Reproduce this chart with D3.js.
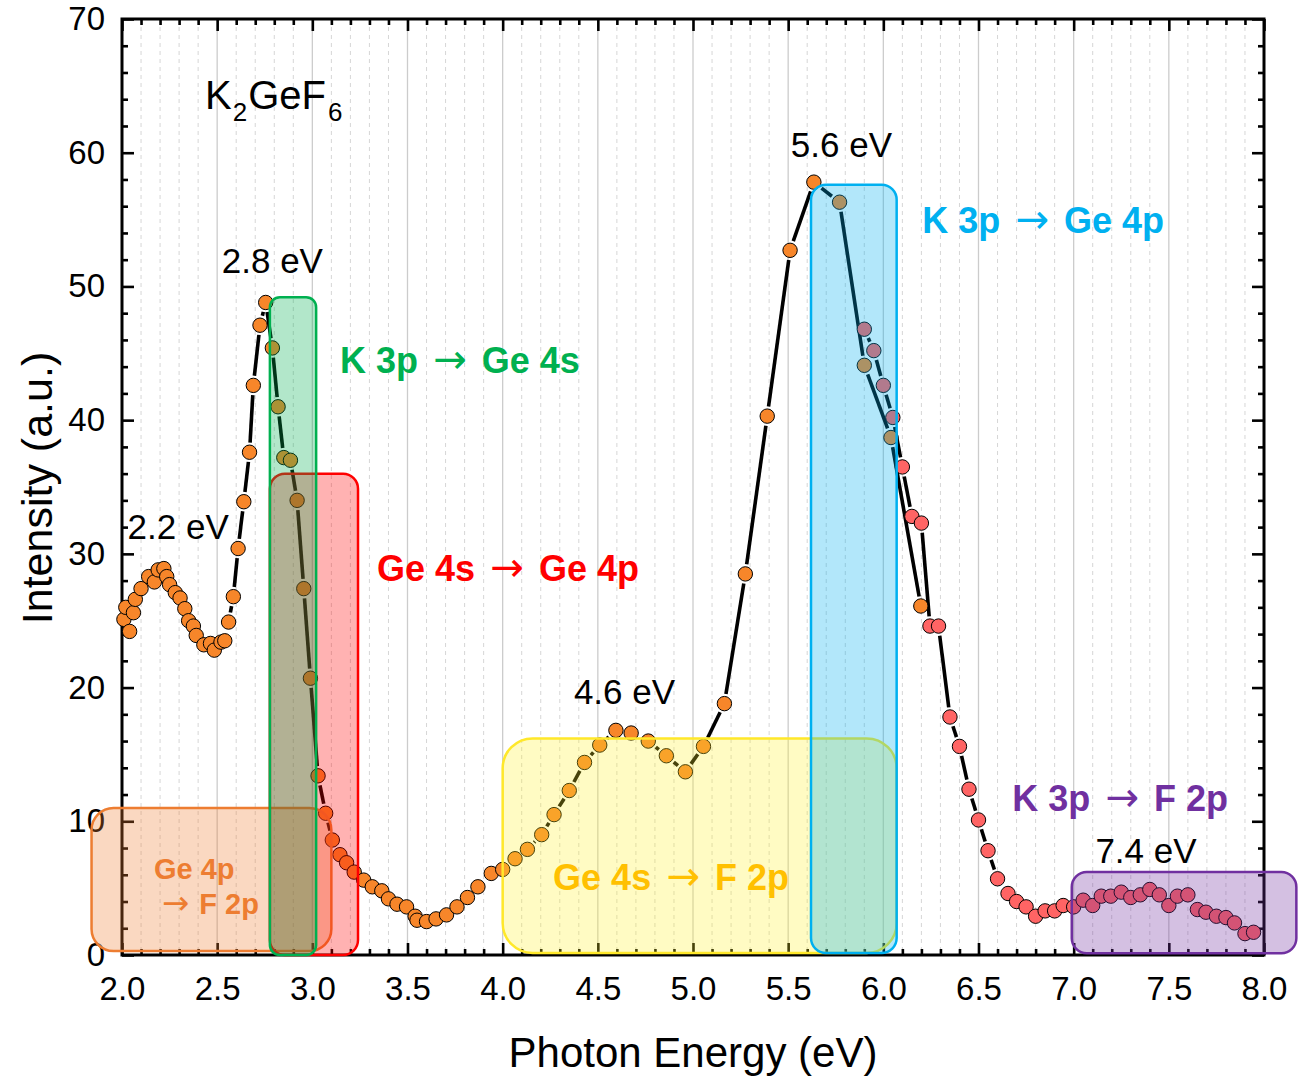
<!DOCTYPE html>
<html>
<head>
<meta charset="utf-8">
<script src="https://cdn.jsdelivr.net/npm/d3@7"></script>
<style>
  body { margin: 0; background: #fff; }
  svg text { font-family: "Liberation Sans", Arial, sans-serif; }
</style>
</head>
<body>
<div id="viz"></div>
<script>
// series A (orange), 2.0 - 6.2 eV
const energyA = [2.01, 2.02, 2.04, 2.06, 2.07, 2.10, 2.14, 2.17, 2.19, 2.22, 2.235, 2.25, 2.28, 2.305,
  2.33, 2.35, 2.375, 2.39, 2.43, 2.465, 2.485, 2.52, 2.54, 2.56, 2.585, 2.61, 2.64, 2.67, 2.69, 2.725,
  2.755, 2.79, 2.82, 2.85, 2.885, 2.92, 2.955, 2.99, 3.03, 3.07, 3.105, 3.145, 3.18, 3.22, 3.27, 3.315,
  3.365, 3.40, 3.445, 3.495, 3.54, 3.55, 3.60, 3.65, 3.705, 3.76, 3.815, 3.87, 3.94, 4.00, 4.065, 4.13,
  4.205, 4.27, 4.35, 4.43, 4.51, 4.595, 4.675, 4.765, 4.86, 4.96, 5.055, 5.165, 5.275, 5.39, 5.51,
  5.635, 5.77, 5.90, 6.04, 6.197];
const intensA = [25.1, 26.0, 24.2, 25.6, 26.6, 27.4, 28.3, 27.9, 28.8, 28.9, 28.3, 27.7, 27.1, 26.7,
  25.9, 25.0, 24.6, 23.9, 23.2, 23.3, 22.8, 23.4, 23.5, 24.9, 26.8, 30.4, 33.9, 37.6, 42.6, 47.1,
  48.8, 45.4, 41.0, 37.2, 37.0, 34.0, 27.4, 20.7, 13.4, 10.6, 8.6, 7.5, 6.9, 6.2, 5.6, 5.1,
  4.8, 4.2, 3.8, 3.6, 2.9, 2.6, 2.5, 2.7, 3.0, 3.6, 4.3, 5.1, 6.1, 6.4, 7.2, 7.9,
  9.0, 10.5, 12.3, 14.4, 15.7, 16.8, 16.6, 16.0, 14.9, 13.7, 15.6, 18.8, 28.5, 40.3, 52.7,
  57.8, 56.3, 44.1, 38.7, 26.1];

// series B (red), 5.9 - 8.0 eV
const energyB = [5.90, 5.95, 6.00, 6.05, 6.10, 6.15, 6.20, 6.245, 6.29, 6.35, 6.40, 6.45, 6.50, 6.55,
  6.60, 6.655, 6.70, 6.75, 6.80, 6.85, 6.90, 6.945, 7.00, 7.05, 7.10, 7.145, 7.195, 7.25, 7.30, 7.35,
  7.40, 7.45, 7.50, 7.545, 7.60, 7.65, 7.695, 7.75, 7.80, 7.845, 7.90, 7.945];
const intensB = [46.8, 45.2, 42.6, 40.2, 36.5, 32.8, 32.3, 24.6, 24.6, 17.8, 15.6, 12.4, 10.1, 7.8,
  5.7, 4.6, 4.0, 3.6, 2.9, 3.3, 3.3, 3.7, 3.6, 4.1, 3.7, 4.4, 4.4, 4.7, 4.3, 4.5,
  4.9, 4.5, 3.7, 4.4, 4.5, 3.4, 3.2, 2.9, 2.8, 2.4, 1.6, 1.7];

const xTicks = [2.0, 2.5, 3.0, 3.5, 4.0, 4.5, 5.0, 5.5, 6.0, 6.5, 7.0, 7.5, 8.0];
const yTicks = [0, 10, 20, 30, 40, 50, 60, 70];

// highlighted transition regions (data units)
const regions = [
  { key: 'orange', x0: 1.84, x1: 3.10, y0: 0.3, y1: 11.0 },
  { key: 'red',    x0: 2.777, x1: 3.24, y0: 0.0, y1: 36.0 },
  { key: 'green',  x0: 2.777, x1: 3.02, y0: 0.0, y1: 49.2 },
  { key: 'yellow', x0: 4.00, x1: 6.07, y0: 0.15, y1: 16.2 },
  { key: 'blue',   x0: 5.62, x1: 6.07, y0: 0.15, y1: 57.6 },
  { key: 'purple', x0: 6.99, x1: 8.17, y0: 0.13, y1: 6.2 }
];

// label parts: [before arrow, after arrow]
const transitions = [
  { key: 'green',  parts: ['K 3p ', ' Ge 4s'], x: 3.145, y: 43.5 },
  { key: 'red',    parts: ['Ge 4s ', ' Ge 4p'], x: 3.34, y: 28.0 },
  { key: 'blue',   parts: ['K 3p ', ' Ge 4p'], x: 6.204, y: 54.0 },
  { key: 'yellow', parts: ['Ge 4s ', ' F 2p'], x: 4.265, y: 4.85 },
  { key: 'purple', parts: ['K 3p ', ' F 2p'], x: 6.677, y: 10.75 },
  { key: 'orange', parts: ['Ge 4p'], x: 2.168, y: 5.65, small: true },
  { key: 'orange', parts: ['', ' F 2p'], x: 2.21, y: 3.05, small: true }
];

const peaks = [
  { text: '2.2 eV', x: 2.295, y: 31.1 },
  { text: '2.8 eV', x: 2.79, y: 51.0 },
  { text: '4.6 eV', x: 4.64, y: 18.8 },
  { text: '5.6 eV', x: 5.78, y: 59.7 },
  { text: '7.4 eV', x: 7.38, y: 6.9 }
];

const STYLE = {
  orange: { stroke: '#ED7D31', fill: 'rgba(237,125,49,0.3)', text: '#ED7D31', rx: 22 },
  red:    { stroke: '#FF0000', fill: 'rgba(255,0,0,0.3)', text: '#FF0000', rx: 15 },
  green:  { stroke: '#00B050', fill: 'rgba(0,176,80,0.3)', text: '#00B050', rx: 10 },
  yellow: { stroke: '#FFE82A', fill: 'rgba(255,240,40,0.28)', text: '#FFC000', rx: 30 },
  blue:   { stroke: '#00B0F0', fill: 'rgba(0,176,240,0.3)', text: '#00B0F0', rx: 15 },
  purple: { stroke: '#7030A0', fill: 'rgba(112,48,160,0.3)', text: '#7030A0', rx: 15 }
};

const M = { top: 19, right: 48, bottom: 121, left: 122 };
const W = 1312 - M.left - M.right;
const H = 1076 - M.top - M.bottom;

const svg = d3.select('#viz').append('svg')
  .attr('width', 1312).attr('height', 1076)
  .style('display', 'block').style('background', '#fff');
const g = svg.append('g').attr('transform', `translate(${M.left},${M.top})`);

const x = d3.scaleLinear().domain([2, 8]).range([0, W]);
const y = d3.scaleLinear().domain([0, 70]).range([H, 0]);

const xMinor = d3.range(20, 81).map(v => v / 10).filter(v => !xTicks.some(t => Math.abs(t - v) < 1e-6));
const yMinor = d3.range(0, 71, 2).filter(v => v % 10 !== 0);

// grid
g.append('g').selectAll('line').data(xMinor).join('line')
  .attr('x1', d => x(d)).attr('x2', d => x(d)).attr('y1', 0).attr('y2', H)
  .attr('stroke', '#d6d6d6').attr('stroke-width', 1).attr('stroke-dasharray', '4,4');
g.append('g').selectAll('line').data(xTicks.slice(1, -1)).join('line')
  .attr('x1', d => x(d)).attr('x2', d => x(d)).attr('y1', 0).attr('y2', H)
  .attr('stroke', '#cccccc').attr('stroke-width', 1.3);

// axes (ticks inward on all four sides)
function axis(gen, pos, vals, size, labels, pad) {
  const a = g.append('g').attr('transform', pos)
    .call(gen.tickValues(vals).tickSize(-size).tickPadding(pad || 0)
      .tickFormat(labels ? labels : ''));
  a.select('.domain').remove();
  a.selectAll('.tick line').attr('stroke', '#000').attr('stroke-width', 2.6);
  a.selectAll('.tick text').attr('fill', '#000').attr('font-size', 33)
    .attr('font-family', '"Liberation Sans", Arial, sans-serif');
  return a;
}
axis(d3.axisBottom(x), `translate(0,${H})`, xTicks, 12, d3.format('.1f'), 22);
axis(d3.axisBottom(x), `translate(0,${H})`, xMinor, 6);
axis(d3.axisTop(x), 'translate(0,0)', xTicks, 12);
axis(d3.axisTop(x), 'translate(0,0)', xMinor, 6);
axis(d3.axisLeft(y), 'translate(0,0)', yTicks, 12, d3.format('d'), 17);
axis(d3.axisLeft(y), 'translate(0,0)', yMinor, 6);
axis(d3.axisRight(y), `translate(${W},0)`, yTicks, 12);
axis(d3.axisRight(y), `translate(${W},0)`, yMinor, 6);

g.append('rect').attr('x', 0).attr('y', 0).attr('width', W).attr('height', H)
  .attr('fill', 'none').attr('stroke', '#000').attr('stroke-width', 3);

// connecting lines with gaps around markers
const R = 7.2;
function drawSeries(xs, ys, fill) {
  const pts = xs.map((v, i) => [x(v), y(ys[i])]);
  const segs = [];
  for (let i = 1; i < pts.length; i++) {
    const [x1, y1] = pts[i - 1], [x2, y2] = pts[i];
    const d = Math.hypot(x2 - x1, y2 - y1), gap = R + 2.5;
    if (d <= 2 * gap + 1) continue;
    const ux = (x2 - x1) / d, uy = (y2 - y1) / d;
    segs.push([x1 + ux * gap, y1 + uy * gap, x2 - ux * gap, y2 - uy * gap]);
  }
  g.append('g').selectAll('line').data(segs).join('line')
    .attr('x1', d => d[0]).attr('y1', d => d[1]).attr('x2', d => d[2]).attr('y2', d => d[3])
    .attr('stroke', '#000').attr('stroke-width', 3.6).attr('stroke-linecap', 'butt');
  return () => g.append('g').selectAll('circle').data(pts).join('circle')
    .attr('cx', d => d[0]).attr('cy', d => d[1]).attr('r', R)
    .attr('fill', fill).attr('stroke', '#000').attr('stroke-width', 1);
}
const dotsA = drawSeries(energyA, intensA, '#F7862A');
const dotsB = drawSeries(energyB, intensB, '#FF6464');
dotsA();
dotsB();

// transition boxes
g.append('g').selectAll('rect').data(regions).join('rect')
  .attr('x', d => x(d.x0)).attr('y', d => y(d.y1))
  .attr('width', d => x(d.x1) - x(d.x0)).attr('height', d => y(d.y0) - y(d.y1))
  .attr('rx', d => STYLE[d.key].rx).attr('ry', d => STYLE[d.key].rx)
  .attr('fill', d => STYLE[d.key].fill).attr('stroke', d => STYLE[d.key].stroke)
  .attr('stroke-width', 2.5);

// transition labels
transitions.forEach(d => {
  const fs = d.small ? 29 : 36;
  const sp = d.small ? 2 : 5;
  const t = g.append('text').attr('x', x(d.x)).attr('y', y(d.y))
    .attr('font-size', fs).attr('font-weight', 'bold').attr('fill', STYLE[d.key].text)
    .attr('xml:space', 'preserve');
  t.append('tspan').text(d.parts[0]);
  if (d.parts.length > 1) {
    t.append('tspan').attr('dx', d.parts[0] ? sp : 0)
      .attr('font-family', '"DejaVu Sans", sans-serif').attr('font-weight', 'normal')
      .attr('font-size', fs * 1.12).text('\u2192');
    t.append('tspan').attr('dx', sp).text(d.parts[1]);
  }
});

// peak labels
g.append('g').selectAll('text').data(peaks).join('text')
  .attr('x', d => x(d.x)).attr('y', d => y(d.y))
  .attr('text-anchor', 'middle').attr('font-size', 35).attr('fill', '#000')
  .text(d => d.text);

// compound label
const comp = g.append('text').attr('x', x(2.436)).attr('y', y(63.3))
  .attr('font-size', 40).attr('fill', '#000');
comp.append('tspan').text('K');
comp.append('tspan').attr('font-size', 26).attr('dy', 12).attr('dx', 1).text('2');
comp.append('tspan').attr('dy', -12).attr('dx', 1).text('GeF');
comp.append('tspan').attr('font-size', 26).attr('dy', 12).attr('dx', 2).text('6');

// axis titles
g.append('text').attr('x', W / 2).attr('y', H + 112)
  .attr('text-anchor', 'middle').attr('font-size', 42).attr('fill', '#000')
  .text('Photon Energy (eV)');
g.append('text').attr('transform', `translate(${-M.left + 52},${H / 2 + 1}) rotate(-90)`)
  .attr('text-anchor', 'middle').attr('font-size', 43).attr('fill', '#000')
  .text('Intensity (a.u.)');
</script>
</body>
</html>
